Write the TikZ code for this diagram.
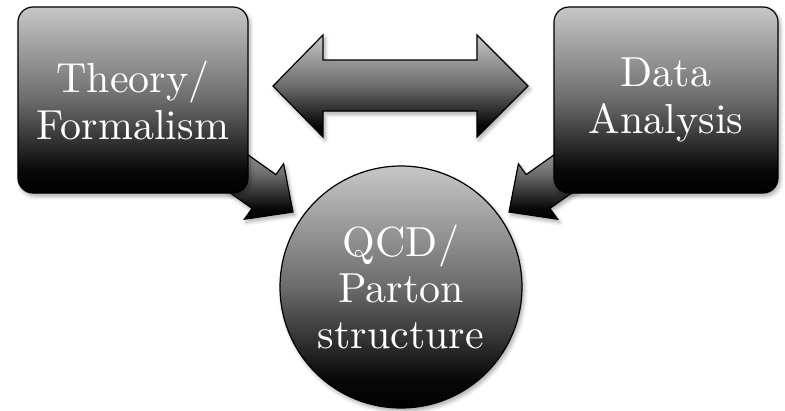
\documentclass[tikz,border=0pt]{standalone}
\usepackage{fontspec}
\IfFontExistsTF{lmroman10-regular.otf}
  {\newfontfamily\labelfont{lmroman10-regular.otf}}
  {\newfontfamily\labelfont{Latin Modern Roman}}
\usetikzlibrary{shadows.blur}
\pgfdeclareverticalshading{glossy}{100bp}{color(0bp)=(black); color(25bp)=(black); color(31bp)=(black!97); color(50bp)=(black!58); color(75bp)=(black!22); color(100bp)=(black!22)}
\begin{document}
\begin{tikzpicture}[x=1pt,y=-1pt,
  gloss/.style={shade, shading=glossy, draw=black, line width=1.2pt,
    blur shadow={shadow xshift=2pt, shadow yshift=-3pt, shadow opacity=35, shadow blur steps=6, shadow blur radius=4pt}},
  boxnode/.style={gloss, rectangle, rounded corners=15pt, minimum width=230pt, minimum height=186pt,
    inner sep=0pt, text=white, font=\labelfont\fontsize{42}{47}\selectfont, align=center},
  circnode/.style={gloss, circle, minimum size=242pt, inner sep=0pt, text=white,
    font=\labelfont\fontsize{42}{46}\selectfont, align=center},
  blockarrow/.style={gloss, line join=miter}
]
\useasboundingbox (0,0) rectangle (785,410);

% single block arrows (drawn below boxes and circle)
\coordinate (lt1) at (210.6,128.4);
\coordinate (ls1) at (275.9,174.6);
\coordinate (lh1) at (283.6,163.8);
\coordinate (ltip) at (293,212);
\coordinate (lh2) at (244.4,219.2);
\coordinate (ls2) at (252.1,208.4);
\coordinate (lt2) at (186.8,162.2);
\path[blockarrow] (lt1) -- (ls1) -- (lh1) -- (ltip) -- (lh2) -- (ls2) -- (lt2) -- cycle;

\coordinate (rt1) at (591.4,128.4);
\coordinate (rs1) at (526.1,174.6);
\coordinate (rh1) at (518.4,163.8);
\coordinate (rtip) at (509,212);
\coordinate (rh2) at (557.6,219.2);
\coordinate (rs2) at (549.9,208.4);
\coordinate (rt2) at (615.2,162.2);
\path[blockarrow] (rt1) -- (rs1) -- (rh1) -- (rtip) -- (rh2) -- (rs2) -- (rt2) -- cycle;

% boxes and circle
\node[boxnode] (theory) at (133,100) {Theory/\\Formalism};
\node[boxnode, minimum width=224pt] (data) at (666,100) {Data\\Analysis};
\node[circnode] (qcd) at (401,287) {QCD/\\Parton\\structure};

% double block arrow
\coordinate (dl) at (273,86);
\coordinate (dr) at (528,86);
\path[blockarrow] (dl) -- (323,35) -- (323,60) -- (477,60) -- (477,35) -- (dr)
  -- (477,137) -- (477,111) -- (323,111) -- (323,137) -- cycle;
\end{tikzpicture}
\end{document}
